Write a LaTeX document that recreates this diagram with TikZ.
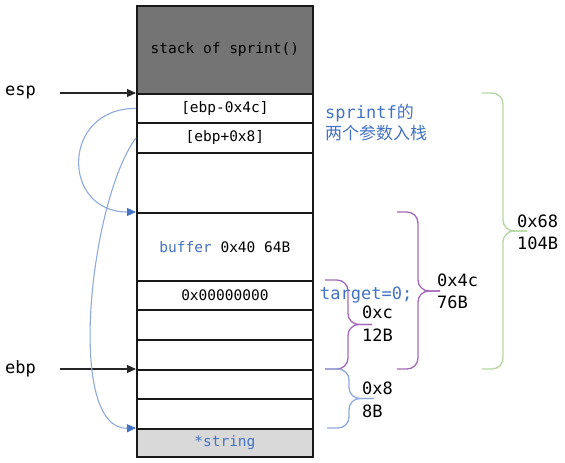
\documentclass[tikz,border=0pt]{standalone}
\usepackage{fontspec}
\setmonofont{DejaVu Sans Mono}
\newfontfamily\cjk{Noto Sans CJK SC}
\usetikzlibrary{arrows.meta}
\definecolor{darkcell}{HTML}{747474}
\definecolor{lightcell}{HTML}{D9D9D9}
\definecolor{txtblue}{HTML}{4472C4}
\definecolor{curveblue}{HTML}{8FAADC}
\definecolor{bracepurple}{HTML}{A468B8}
\definecolor{bracegreen}{HTML}{B5D6A0}
\definecolor{braceblue}{HTML}{8FAADC}
\begin{document}
\begin{tikzpicture}[x=1pt,y=-1pt,
  cell/.style={draw=black!90,line width=1.8pt,minimum width=176pt,inner sep=0pt,
    anchor=north west,font=\ttfamily\fontsize{14.5}{17}\selectfont},
  lbl/.style={anchor=west,inner sep=0pt,font=\ttfamily\fontsize{17}{20}\selectfont},
  ptr/.style={draw=black!85,line width=1.1pt,-{Triangle[length=9pt,width=8pt]}},
  bcurve/.style={draw=curveblue,line width=1.1pt,-{Triangle[length=9pt,width=8pt,fill=txtblue,color=txtblue]}},
  brc/.style={line width=1.3pt,rounded corners=11pt}]
\useasboundingbox (0,0) rectangle (565,463);
% stack cells
\node[cell,fill=darkcell,minimum height=88pt] (c0) at (136,5) {stack of sprint()};
\node[cell,minimum height=29pt] (c1) at (136,93) {[ebp-0x4c]};
\node[cell,minimum height=30pt] (c2) at (136,122) {[ebp+0x8]};
\node[cell,minimum height=60pt] (c3) at (136,152) {};
\node[cell,minimum height=68pt] (c4) at (136,212) {\textcolor{txtblue}{buffer} 0x40 64B};
\node[cell,minimum height=29pt] (c5) at (136,280) {0x00000000};
\node[cell,minimum height=30pt] (c6) at (136,309) {};
\node[cell,minimum height=30pt] (c7) at (136,339) {};
\node[cell,minimum height=29pt] (c8) at (136,369) {};
\node[cell,minimum height=30pt] (c9) at (136,398) {};
\node[cell,fill=lightcell,minimum height=28pt,text=txtblue] (c10) at (136,428) {*string};
% pointers
\node[lbl] (esp) at (5,93) {esp};
\node[lbl] (ebp) at (5,369) {ebp};
\coordinate (espstart) at (60,93);
\coordinate (ebpstart) at (60,369);
\draw[ptr] (espstart) -- (c1.north west);
\draw[ptr] (ebpstart) -- (c8.north west);
% blue curves
\draw[bcurve] (c1.west) .. controls (61,108) and (61,212) .. (c4.north west);
\draw[bcurve] (c2.west) .. controls (90,200) and (65,430) .. (c10.north west);
% labels
\node[lbl,text=txtblue] (sp1) at (325,113) {sprintf{\cjk 的}};
\node[lbl,text=txtblue] (sp2) at (325,133) {\cjk 两个参数入栈};
\node[lbl,text=txtblue] (tg) at (320,295) {target=0;};
\node[lbl] (l0xc) at (362,312) {0xc};
\node[lbl] (l12) at (362,335) {12B};
\node[lbl] (l0x8) at (362,388) {0x8};
\node[lbl] (l8) at (362,411) {8B};
\node[lbl] (l0x4c) at (437,280) {0x4c};
\node[lbl] (l76) at (437,302) {76B};
\node[lbl] (l0x68) at (517,221) {0x68};
\node[lbl] (l104) at (517,243) {104B};
% braces
\draw[brc,bracegreen] (482,93) -- (503,93) -- (503,231) -- (527,231);
\draw[brc,bracegreen] (527,231) -- (503,231) -- (503,369) -- (482,369);
\draw[brc,bracepurple] (397,212) -- (418,212) -- (418,291) -- (440,291);
\draw[brc,bracepurple] (440,291) -- (418,291) -- (418,369) -- (397,369);
\draw[brc,bracepurple] (325,280) -- (348,280) -- (348,324.5) -- (372,324.5);
\draw[brc,bracepurple] (372,324.5) -- (348,324.5) -- (348,369) -- (325,369);
\draw[brc,braceblue] (325,369) -- (349,369) -- (349,398.5) -- (374,398.5);
\draw[brc,braceblue] (374,398.5) -- (349,398.5) -- (349,428) -- (327,428);
\end{tikzpicture}
\end{document}
